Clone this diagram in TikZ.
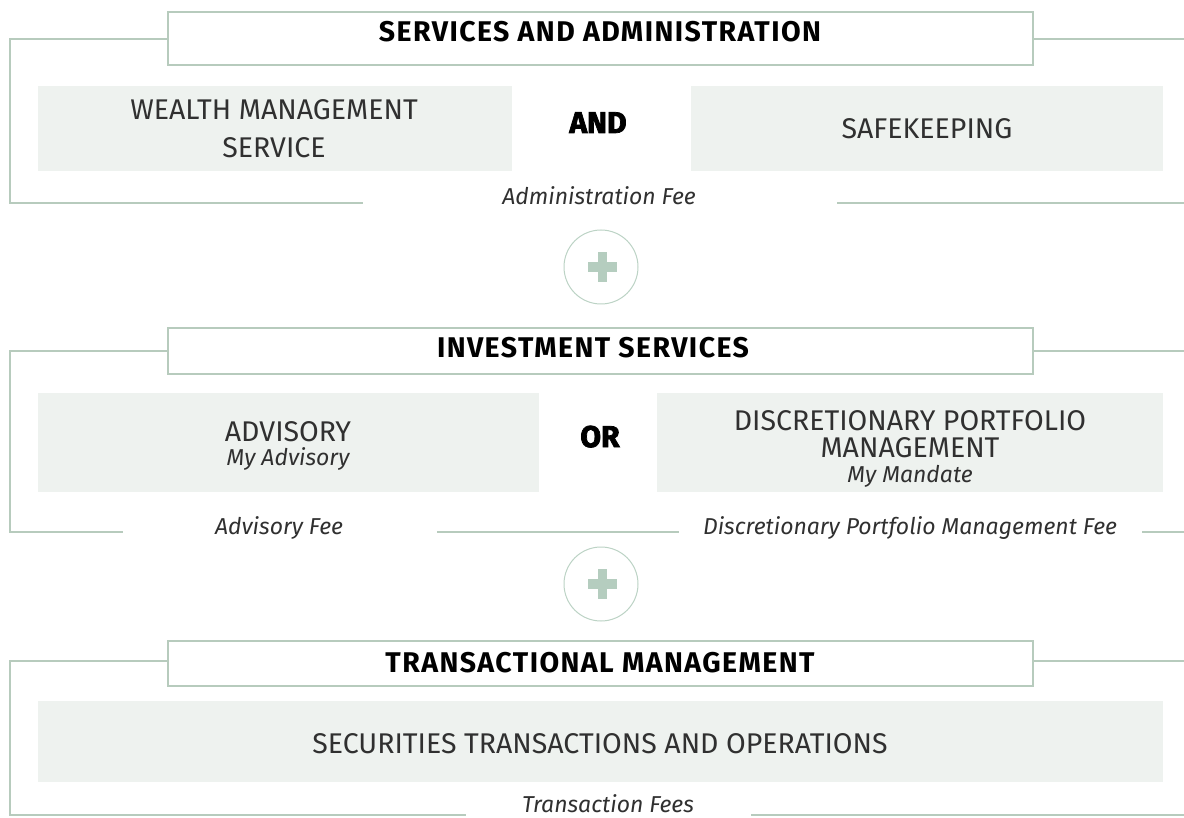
\documentclass[tikz,border=0pt]{standalone}
\usepackage{fontspec}
\newfontfamily\flight{Fira Sans}
\newfontfamily\flightit{Fira Sans}[UprightFont=*-Italic]
\newfontfamily\fmed{Fira Sans}[UprightFont=*-Bold, LetterSpace=5]
\newfontfamily\fheavy{Fira Sans}[UprightFont=*-Bold, FakeBold=2.5]
\definecolor{framec}{HTML}{B7CBBD}
\definecolor{boxgray}{HTML}{EEF2EF}
\definecolor{plusc}{HTML}{B5CDBF}
\definecolor{circc}{HTML}{BCD3C5}
\definecolor{txt}{HTML}{303030}
\tikzset{
  headbox/.style={draw=framec, line width=2pt, fill=white, inner sep=0pt, anchor=north west},
  graybox/.style={fill=boxgray, inner sep=0pt, anchor=north west},
  framel/.style={draw=framec, line width=1.3pt},
  bodytxt/.style={font=\flight\fontsize{28.5}{28.5}\selectfont, text=txt, anchor=base, inner sep=0pt},
  headtxt/.style={font=\fmed\fontsize{28.5}{28.5}\selectfont, text=black, anchor=base, inner sep=0pt},
  conjtxt/.style={font=\fheavy\fontsize{30}{30}\selectfont, text=black, anchor=base, inner sep=0pt},
  itxt/.style={font=\flightit\fontsize{23}{23}\selectfont, text=txt, anchor=base, inner sep=0pt},
  feetxt/.style={font=\flightit\fontsize{23}{23}\selectfont, text=txt, anchor=base, inner sep=0pt},
  pluscircle/.style={circle, draw=circc, line width=1pt, fill=white, minimum size=74pt, inner sep=0pt},
}
\begin{document}
\begin{tikzpicture}[x=1pt,y=-1pt]
\useasboundingbox (0,0) rectangle (1184,818);
\fill[white] (0,0) rectangle (1184,818);

% ---------- Section 1 ----------
\draw[framel] (167,39) -- (10,39) -- (10,203) -- (363,203);
\draw[framel] (837,203) -- (1184,203);
\draw[framel] (1032,39) -- (1184,39);
\node[headbox, minimum width=865pt, minimum height=53pt] (h1) at (167,11) {};
\node[headtxt] (h1t) at (600,42) {SERVICES AND ADMINISTRATION};
\node[graybox, minimum width=474pt, minimum height=85pt] (b1) at (38,86) {};
\node[graybox, minimum width=472pt, minimum height=85pt] (b2) at (691,86) {};
\node[bodytxt] (b1a) at (274,120) {WEALTH MANAGEMENT};
\node[bodytxt] (b1b) at (274,158) {SERVICE};
\node[bodytxt] (b2a) at (927,139) {SAFEKEEPING};
\node[conjtxt] (and) at (598,133) {AND};
\node[feetxt] (fee1) at (599,205) {Administration Fee};

% ---------- Plus 1 ----------
\node[pluscircle] (p1) at (601,267) {};
\fill[plusc] (588,262) rectangle (617,272);
\fill[plusc] (598,252) rectangle (607,282);

% ---------- Section 2 ----------
\draw[framel] (167,351) -- (10,351) -- (10,532) -- (123,532);
\draw[framel] (437,532) -- (679,532);
\draw[framel] (1142,532) -- (1184,532);
\draw[framel] (1032,351) -- (1184,351);
\node[headbox, minimum width=865pt, minimum height=46pt] (h2) at (167,327) {};
\node[headtxt] (h2t) at (593,358) {INVESTMENT SERVICES};
\node[graybox, minimum width=501pt, minimum height=99pt] (b3) at (38,393) {};
\node[graybox, minimum width=506pt, minimum height=99pt] (b4) at (657,393) {};
\node[bodytxt] (b3a) at (288,441) {ADVISORY};
\node[itxt] (b3b) at (288,465) {My Advisory};
\node[bodytxt] (b4a) at (910,431) {DISCRETIONARY PORTFOLIO};
\node[bodytxt] (b4b) at (910,457) {MANAGEMENT};
\node[itxt] (b4c) at (910,482) {My Mandate};
\node[conjtxt] (or) at (600,447) {OR};
\node[feetxt] (fee2) at (279,534) {Advisory Fee};
\node[feetxt] (fee3) at (910,534) {Discretionary Portfolio Management Fee};

% ---------- Plus 2 ----------
\node[pluscircle] (p2) at (601,584) {};
\fill[plusc] (588,579) rectangle (617,589);
\fill[plusc] (598,569) rectangle (607,599);

% ---------- Section 3 ----------
\draw[framel] (167,661) -- (10,661) -- (10,815) -- (466,815);
\draw[framel] (751,815) -- (1184,815);
\draw[framel] (1032,661) -- (1184,661);
\node[headbox, minimum width=865pt, minimum height=45pt] (h3) at (167,640) {};
\node[headtxt] (h3t) at (600,672) {TRANSACTIONAL MANAGEMENT};
\node[graybox, minimum width=1125pt, minimum height=81pt] (b5) at (38,701) {};
\node[bodytxt] (b5a) at (600,753) {SECURITIES TRANSACTIONS AND OPERATIONS};
\node[feetxt] (fee4) at (608,812) {Transaction Fees};
\end{tikzpicture}
\end{document}
